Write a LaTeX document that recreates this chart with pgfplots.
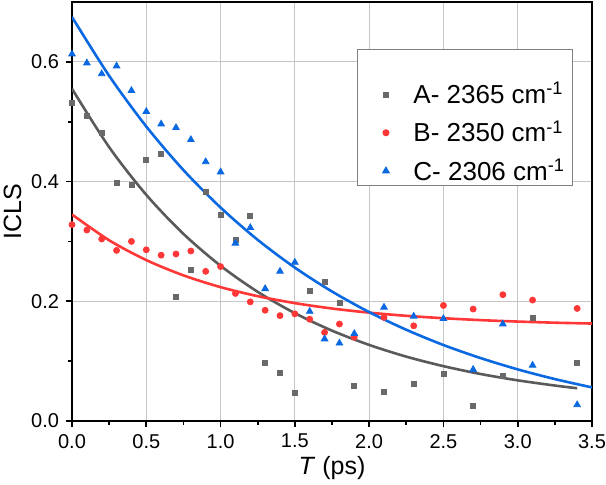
\documentclass[border=0pt]{standalone}
\usepackage{fontspec}
\setmainfont{Liberation Sans}
\usepackage{pgfplots}
\pgfplotsset{compat=1.18}
\usetikzlibrary{calc}
\definecolor{cA}{RGB}{105,105,105}
\definecolor{cAl}{RGB}{90,90,90}
\definecolor{cB}{RGB}{255,55,55}
\definecolor{cC}{RGB}{10,105,225}
\begin{document}
\begin{tikzpicture}
\begin{axis}[
  width=260pt, height=209.5pt, scale only axis,
  xmin=0, xmax=3.5, ymin=0, ymax=0.7,
  xtick={0,0.5,...,3.5}, ytick={0,0.2,0.4,0.6},
  minor tick num=1,
  tick align=outside,
  xtick pos=bottom, ytick pos=left,
  major tick length=3pt, minor tick length=2pt,
  every tick/.style={black, line width=0.8pt},
  axis line style={line width=1.1pt},
  grid=major,
  major grid style={gray!45, line width=0.4pt},
  /pgf/number format/assume math mode=true,
  /pgf/number format/fixed, /pgf/number format/fixed zerofill, /pgf/number format/precision=1,
  tick label style={font=\fontsize{10}{12}\selectfont},
  xlabel={\textit{T} (ps)}, ylabel={ICLS},
  label style={font=\fontsize{12.5}{14}\selectfont},
  xlabel style={yshift=3pt},
  ylabel style={yshift=-2pt},
  legend style={at={(0.548,0.888)}, anchor=north west, draw=gray, line width=0.5pt,
    font=\fontsize{13}{15}\selectfont, row sep=5pt, inner xsep=2pt, inner ysep=0pt,
    nodes={inner xsep=1.5pt, inner ysep=1pt}},
  legend cell align=left,
  legend image code/.code={\path (0pt,0pt) (24pt,0pt);
    \draw[#1, mark repeat=2, mark phase=2] plot coordinates {(0pt,0pt) (12pt,0pt) (24pt,0pt)};},
]
\addlegendimage{empty legend}
\addlegendentry{\rule{0pt}{7pt}}
\addplot[only marks, mark=square*, mark size=1.25pt, color=cA] coordinates {
(0,0.532) (0.1,0.51) (0.2,0.481) (0.3,0.397) (0.4,0.395) (0.5,0.436) (0.6,0.447)
(0.7,0.208) (0.8,0.252) (0.9,0.383) (1.0,0.344) (1.1,0.302) (1.2,0.343) (1.3,0.097)
(1.4,0.08) (1.5,0.047) (1.6,0.217) (1.7,0.233) (1.8,0.198) (1.9,0.058) (2.1,0.049)
(2.3,0.062) (2.5,0.079) (2.7,0.025) (2.9,0.076) (3.1,0.173) (3.4,0.097)};
\addlegendentry{A- 2365 cm\textsuperscript{-1}}
\addplot[only marks, mark=*, mark size=1.5pt, color=cB] coordinates {
(0,0.328) (0.1,0.319) (0.2,0.304) (0.3,0.285) (0.4,0.3) (0.5,0.286) (0.6,0.277)
(0.7,0.279) (0.8,0.284) (0.9,0.25) (1.0,0.258) (1.1,0.213) (1.2,0.199) (1.3,0.185)
(1.4,0.176) (1.5,0.179) (1.6,0.17) (1.7,0.148) (1.8,0.162) (1.9,0.14) (2.1,0.173)
(2.3,0.159) (2.5,0.193) (2.7,0.187) (2.9,0.211) (3.1,0.202) (3.4,0.188)};
\addlegendentry{B- 2350 cm\textsuperscript{-1}}
\addplot[only marks, mark=triangle*, mark size=1.9pt, color=cC] coordinates {
(0,0.613) (0.1,0.598) (0.2,0.58) (0.3,0.593) (0.4,0.552) (0.5,0.517) (0.6,0.496)
(0.7,0.49) (0.8,0.47) (0.9,0.433) (1.0,0.416) (1.1,0.297) (1.2,0.323) (1.3,0.221)
(1.4,0.25) (1.5,0.265) (1.6,0.183) (1.7,0.137) (1.8,0.13) (1.9,0.146) (2.1,0.19)
(2.3,0.175) (2.5,0.171) (2.7,0.086) (2.9,0.162) (3.1,0.093) (3.4,0.027)};
\addlegendentry{C- 2306 cm\textsuperscript{-1}}
\addplot[smooth, no marks, color=cAl, line width=1.3pt, forget plot] coordinates {
(0,0.555) (0.25,0.4575) (0.5,0.3778) (0.75,0.3126) (1.0,0.2593) (1.25,0.2157)
(1.5,0.1801) (1.75,0.1509) (2.0,0.1271) (2.25,0.1075) (2.5,0.0916) (2.75,0.0785)
(3.0,0.0679) (3.25,0.0592) (3.4,0.0547)};
\addplot[smooth, no marks, color=cB, line width=1.3pt, forget plot] coordinates {
(0,0.345) (0.25,0.3019) (0.5,0.2688) (0.75,0.2433) (1.0,0.2236) (1.25,0.2085)
(1.5,0.1969) (1.75,0.1879) (2.0,0.1810) (2.25,0.1757) (2.5,0.1717) (2.75,0.1685)
(3.0,0.1661) (3.25,0.1642) (3.5,0.1628)};
\addplot[smooth, no marks, color=cC, line width=1.3pt, forget plot] coordinates {
(0,0.675) (0.25,0.5767) (0.5,0.4920) (0.75,0.4192) (1.0,0.3566) (1.25,0.3026)
(1.5,0.2562) (1.75,0.2163) (2.0,0.1819) (2.25,0.1524) (2.5,0.1269) (2.75,0.1051)
(3.0,0.0862) (3.25,0.0700) (3.5,0.0561)};
\end{axis}
\pgfresetboundingbox
\useasboundingbox ($(current axis.south west)+(-36pt,-32pt)$) rectangle ($(current axis.north east)+(7pt,1pt)$);
\end{tikzpicture}
\end{document}
